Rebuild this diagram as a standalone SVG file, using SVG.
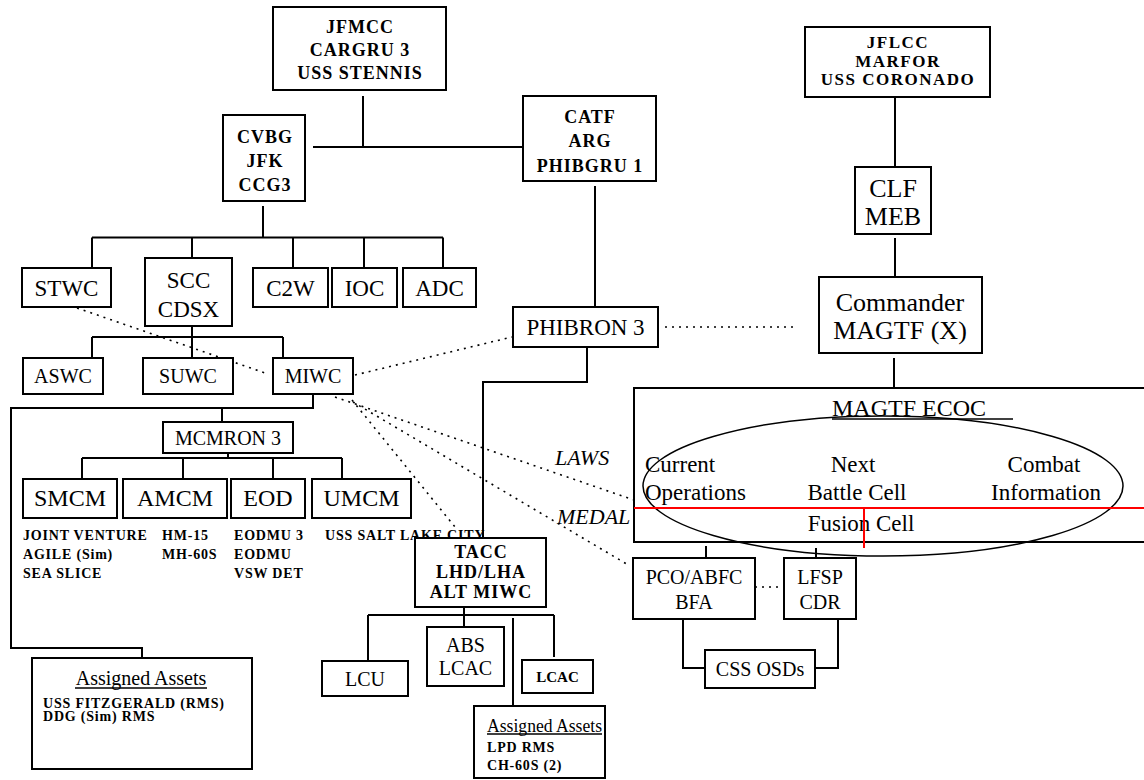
<svg xmlns="http://www.w3.org/2000/svg" width="1144" height="780" viewBox="0 0 1144 780">
<style>
  .box{fill:#fff;stroke:#000;stroke-width:2}
  .ln{fill:none;stroke:#000;stroke-width:2}
  .dot{fill:none;stroke:#000;stroke-width:1.6;stroke-dasharray:2 5}
  .red{fill:none;stroke:#f00;stroke-width:2}
  text{font-family:"Liberation Serif","Times New Roman",serif;fill:#000;dominant-baseline:central}
  .c{text-anchor:middle}
  .hd{font-size:18px;font-weight:bold;letter-spacing:1px}
  .hd2{font-size:17px;font-weight:bold;letter-spacing:1.5px}
  .lg{font-size:26px}
  .md{font-size:23px}
  .sm{font-size:20px}
  .mc{font-size:24px}
  .nt{font-size:14px;font-weight:bold;letter-spacing:0.8px}
  .it{font-size:22px;font-style:italic}
</style>

<!-- connectors -->
<g id="connectors">
  <path class="ln" d="M363,96V147M313,147H523"/>
  <path class="ln" d="M263,206V237.5M92,237.5H443M92,237.5V268M192,237.5V258M293,237.5V268M364,237.5V268M443,237.5V268"/>
  <path class="ln" d="M192,326V337M92,337H283M92,337V358M192,337V358M283,337V358"/>
  <path class="ln" d="M595,186V307"/>
  <path class="ln" d="M895,97V167M895,238V277M894,358V388"/>
  <path class="ln" d="M587,347V382H483V538"/>
  <path class="ln" d="M313,394V408H11V648H142V658"/>
  <path class="ln" d="M222,408V422M228,453V458M82,458H342M82,458V479M183,458V479M273,458V479M342,458V479"/>
  <path class="ln" d="M464,607V615M368,615H554M368,615V661M464,615V627M554,615V657M513,618V706"/>
  <path class="ln" d="M706,546V558M816,548V558M683,619V668H705M838,619V668H815"/>
  <path class="dot" d="M77,308L268,374"/>
  <path class="dot" d="M355,375L512,337"/>
  <path class="dot" d="M665,327H798"/>
  <path class="dot" d="M755,587H784"/>
  <path class="dot" d="M335,397L634,500"/>
  <path class="dot" d="M353,402L630,566"/>
  <path class="dot" d="M352,400L455,527"/>
</g>

<g id="jfmcc">
  <rect class="box" x="273" y="7" width="173" height="83"/>
  <text class="c hd" x="360" y="27">JFMCC</text>
  <text class="c hd" x="360" y="50">CARGRU 3</text>
  <text class="c hd" x="360" y="73">USS STENNIS</text>
</g>
<g id="cvbg">
  <rect class="box" x="223" y="115" width="82" height="86"/>
  <text class="c hd" x="265" y="137">CVBG</text>
  <text class="c hd" x="265" y="161">JFK</text>
  <text class="c hd" x="265" y="185">CCG3</text>
</g>
<g id="catf">
  <rect class="box" x="523" y="96" width="133" height="85"/>
  <text class="c hd" x="590" y="117">CATF</text>
  <text class="c hd" x="590" y="141">ARG</text>
  <text class="c hd" x="590" y="166">PHIBGRU 1</text>
</g>
<g id="jflcc">
  <rect class="box" x="805" y="27" width="185" height="70"/>
  <text class="c hd2" x="898" y="42">JFLCC</text>
  <text class="c hd2" x="898" y="61">MARFOR</text>
  <text class="c hd2" x="898" y="79">USS CORONADO</text>
</g>
<g id="clf">
  <rect class="box" x="855" y="167" width="76" height="67"/>
  <text class="c lg" x="893" y="188">CLF</text>
  <text class="c lg" x="893" y="216">MEB</text>
</g>
<g id="commander">
  <rect class="box" x="819" y="277" width="163" height="76"/>
  <text class="c lg" x="900" y="302">Commander</text>
  <text class="c lg" x="900" y="330">MAGTF (X)</text>
</g>

<g id="stwc"><rect class="box" x="22" y="268" width="89" height="39"/><text class="c md" x="66.5" y="288">STWC</text></g>
<g id="scc">
  <rect class="box" x="145" y="258" width="87" height="68"/>
  <text class="c md" x="188.5" y="280">SCC</text>
  <text class="c md" x="188.5" y="309">CDSX</text>
</g>
<g id="c2w"><rect class="box" x="253" y="268" width="75" height="39"/><text class="c md" x="290.5" y="288">C2W</text></g>
<g id="ioc"><rect class="box" x="332" y="268" width="65" height="39"/><text class="c md" x="364.5" y="288">IOC</text></g>
<g id="adc"><rect class="box" x="403" y="268" width="73" height="39"/><text class="c md" x="439.5" y="288">ADC</text></g>

<g id="aswc"><rect class="box" x="23" y="358" width="80" height="36"/><text class="c sm" x="63" y="376">ASWC</text></g>
<g id="suwc"><rect class="box" x="143" y="358" width="90" height="36"/><text class="c sm" x="188" y="376">SUWC</text></g>
<g id="miwc"><rect class="box" x="273" y="358" width="80" height="36"/><text class="c sm" x="313" y="376">MIWC</text></g>

<g id="phibron3"><rect class="box" x="513" y="307" width="145" height="40"/><text class="c md" x="585.5" y="327">PHIBRON 3</text></g>

<g id="mcmron3"><rect class="box" x="163" y="422" width="130" height="31"/><text class="c sm" x="228" y="437.5">MCMRON 3</text></g>
<g id="smcm"><rect class="box" x="23" y="479" width="94" height="39"/><text class="c mc" x="70" y="498">SMCM</text></g>
<g id="amcm"><rect class="box" x="123" y="479" width="104" height="39"/><text class="c mc" x="175" y="498">AMCM</text></g>
<g id="eod"><rect class="box" x="231" y="479" width="74" height="39"/><text class="c mc" x="268" y="498">EOD</text></g>
<g id="umcm"><rect class="box" x="312" y="479" width="99" height="39"/><text class="c mc" x="361.5" y="498">UMCM</text></g>

<g id="mcm-assets">
  <text class="nt" x="23" y="535">JOINT VENTURE</text>
  <text class="nt" x="23" y="554">AGILE (Sim)</text>
  <text class="nt" x="23" y="573">SEA SLICE</text>
  <text class="nt" x="162" y="535">HM-15</text>
  <text class="nt" x="162" y="554">MH-60S</text>
  <text class="nt" x="234" y="535">EODMU 3</text>
  <text class="nt" x="234" y="554">EODMU</text>
  <text class="nt" x="234" y="573">VSW DET</text>
  <text class="nt" x="325" y="535">USS SALT LAKE CITY</text>
</g>

<g id="assigned-assets-1">
  <rect class="box" x="32" y="658" width="220" height="111"/>
  <text class="c sm" x="141" y="678">Assigned Assets</text>
  <line class="ln" x1="75" y1="688" x2="207" y2="688" style="stroke-width:1.5"/>
  <text class="nt" x="43" y="703">USS FITZGERALD (RMS)</text>
  <text class="nt" x="43" y="716">DDG (Sim) RMS</text>
</g>

<g id="tacc">
  <rect class="box" x="415" y="538" width="131" height="69"/>
  <text class="c hd" x="481" y="552">TACC</text>
  <text class="c hd" x="481" y="572">LHD/LHA</text>
  <text class="c hd" x="481" y="592">ALT MIWC</text>
</g>
<g id="lcu"><rect class="box" x="322" y="661" width="86" height="35"/><text class="c sm" x="365" y="678.5">LCU</text></g>
<g id="abs-lcac">
  <rect class="box" x="427" y="627" width="77" height="59"/>
  <text class="c sm" x="465.5" y="645">ABS</text>
  <text class="c sm" x="465.5" y="668">LCAC</text>
</g>
<g id="lcac"><rect class="box" x="522" y="660" width="71" height="33"/><text class="c" x="557.5" y="676.5" style="font-size:15px;font-weight:bold">LCAC</text></g>

<g id="assigned-assets-2">
  <rect class="box" x="474" y="706" width="131" height="72"/>
  <text x="487" y="725" style="font-size:19px" textLength="115" lengthAdjust="spacingAndGlyphs">Assigned Assets</text>
  <line class="ln" x1="487" y1="734" x2="602" y2="734" style="stroke-width:1.5"/>
  <text class="nt" x="487" y="747">LPD RMS</text>
  <text class="nt" x="487" y="765">CH-60S (2)</text>
</g>

<g id="link-labels">
  <text class="it" x="555" y="457">LAWS</text>
  <text class="it" x="557" y="516">MEDAL</text>
</g>

<g id="magtf-ecoc">
  <rect class="box" x="634" y="388" width="520" height="154"/>
  <text x="832" y="408" style="font-size:24px">MAGTF ECOC</text>
  <line class="ln" x1="832" y1="419" x2="1013" y2="419" style="stroke-width:1.5"/>
  <ellipse cx="883" cy="486" rx="240" ry="70" style="fill:none;stroke:#000;stroke-width:1.5"/>
  <text x="645" y="464" style="font-size:23px">Current</text>
  <text x="645" y="492" style="font-size:23px">Operations</text>
  <text class="c" x="853" y="464" style="font-size:23px">Next</text>
  <text class="c" x="857" y="492" style="font-size:23px">Battle Cell</text>
  <text class="c" x="1044" y="464" style="font-size:23px">Combat</text>
  <text class="c" x="1046" y="492" style="font-size:23px">Information</text>
  <text class="c" x="861" y="523" style="font-size:23px">Fusion Cell</text>
  <path class="red" d="M634,508H1144M864,508V548"/>
</g>

<g id="pco-abfc">
  <rect class="box" x="633" y="558" width="122" height="61"/>
  <text class="c sm" x="694" y="577">PCO/ABFC</text>
  <text class="c sm" x="694" y="602">BFA</text>
</g>
<g id="lfsp">
  <rect class="box" x="784" y="558" width="72" height="61"/>
  <text class="c sm" x="820" y="577">LFSP</text>
  <text class="c sm" x="820" y="602">CDR</text>
</g>
<g id="css-osds"><rect class="box" x="705" y="650" width="110" height="38"/><text class="c sm" x="760" y="669">CSS OSDs</text></g>
</svg>
